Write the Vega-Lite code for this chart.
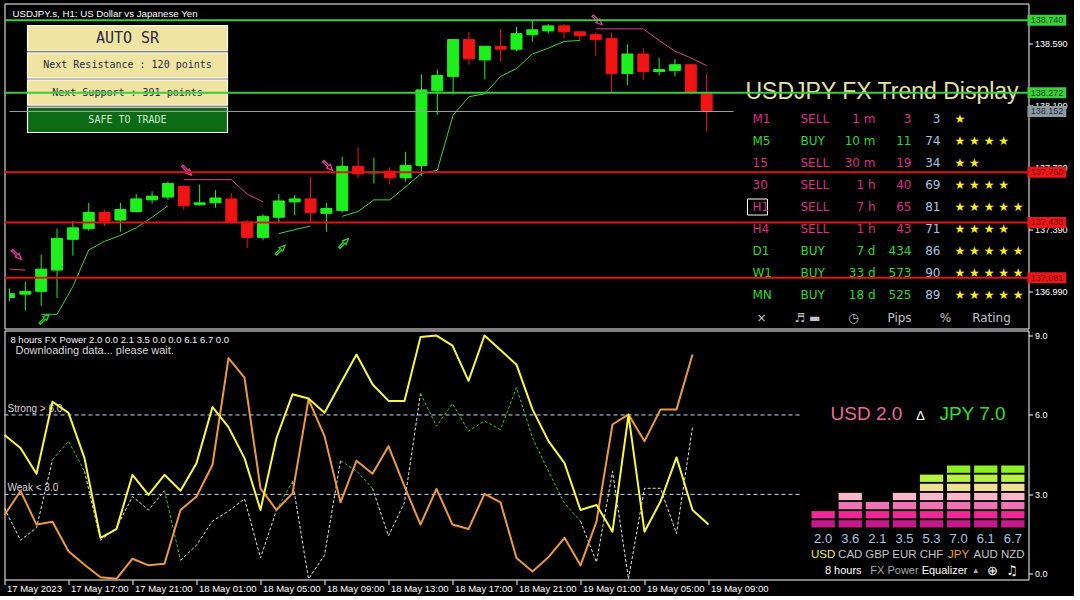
{
"$schema": "https://vega.github.io/schema/vega-lite/v6.json",
"background": "#000000",
"padding": {"left": 2.5, "top": 2.5, "right": 5, "bottom": 2},
"spacing": 2,
"bounds": "flush",
"config": {
  "view": {"stroke": "#ffffff", "strokeWidth": 1},
  "axis": {"grid": false, "domain": false, "labelColor": "#ffffff", "tickColor": "#ffffff", "labelFont": "Liberation Sans", "labelFontSize": 9, "tickSize": 4, "labelPadding": 2},
  "line": {"clip": true, "strokeJoin": "round"},
  "rule": {"clip": true},
  "text": {"font": "Liberation Sans"}
},
"datasets": {
  "candles": [
    {"i":0,"o":136.951,"h":137.013,"l":136.932,"c":136.982},
    {"i":1,"o":136.976,"h":137.056,"l":136.871,"c":136.994},
    {"i":2,"o":136.994,"h":137.230,"l":136.901,"c":137.137},
    {"i":3,"o":137.131,"h":137.397,"l":136.951,"c":137.335},
    {"i":4,"o":137.329,"h":137.446,"l":137.223,"c":137.403},
    {"i":5,"o":137.397,"h":137.564,"l":137.384,"c":137.502},
    {"i":6,"o":137.502,"h":137.521,"l":137.415,"c":137.446},
    {"i":7,"o":137.453,"h":137.564,"l":137.378,"c":137.521},
    {"i":8,"o":137.508,"h":137.620,"l":137.502,"c":137.589},
    {"i":9,"o":137.583,"h":137.638,"l":137.558,"c":137.607},
    {"i":10,"o":137.601,"h":137.700,"l":137.583,"c":137.688},
    {"i":11,"o":137.669,"h":137.676,"l":137.521,"c":137.545},
    {"i":12,"o":137.552,"h":137.682,"l":137.545,"c":137.564},
    {"i":13,"o":137.564,"h":137.645,"l":137.533,"c":137.595},
    {"i":14,"o":137.589,"h":137.626,"l":137.428,"c":137.440},
    {"i":15,"o":137.440,"h":137.453,"l":137.273,"c":137.341},
    {"i":16,"o":137.341,"h":137.490,"l":137.323,"c":137.477},
    {"i":17,"o":137.471,"h":137.620,"l":137.440,"c":137.576},
    {"i":18,"o":137.570,"h":137.614,"l":137.484,"c":137.589},
    {"i":19,"o":137.589,"h":137.731,"l":137.440,"c":137.502},
    {"i":20,"o":137.496,"h":137.564,"l":137.378,"c":137.527},
    {"i":21,"o":137.514,"h":137.861,"l":137.502,"c":137.799},
    {"i":22,"o":137.799,"h":137.923,"l":137.725,"c":137.750},
    {"i":23,"o":137.757,"h":137.855,"l":137.688,"c":137.762},
    {"i":24,"o":137.768,"h":137.793,"l":137.682,"c":137.725},
    {"i":25,"o":137.725,"h":137.892,"l":137.700,"c":137.805},
    {"i":26,"o":137.804,"h":138.391,"l":137.736,"c":138.291},
    {"i":27,"o":138.285,"h":138.422,"l":138.129,"c":138.384},
    {"i":28,"o":138.378,"h":138.615,"l":138.260,"c":138.615},
    {"i":29,"o":138.615,"h":138.665,"l":138.453,"c":138.491},
    {"i":30,"o":138.484,"h":138.572,"l":138.359,"c":138.572},
    {"i":31,"o":138.572,"h":138.684,"l":138.472,"c":138.553},
    {"i":32,"o":138.553,"h":138.696,"l":138.540,"c":138.653},
    {"i":33,"o":138.646,"h":138.740,"l":138.603,"c":138.678},
    {"i":34,"o":138.671,"h":138.715,"l":138.653,"c":138.703},
    {"i":35,"o":138.703,"h":138.715,"l":138.621,"c":138.665},
    {"i":36,"o":138.665,"h":138.665,"l":138.609,"c":138.640},
    {"i":37,"o":138.646,"h":138.659,"l":138.509,"c":138.615},
    {"i":38,"o":138.621,"h":138.659,"l":138.278,"c":138.397},
    {"i":39,"o":138.397,"h":138.584,"l":138.322,"c":138.522},
    {"i":40,"o":138.522,"h":138.559,"l":138.353,"c":138.409},
    {"i":41,"o":138.409,"h":138.497,"l":138.384,"c":138.422},
    {"i":42,"o":138.416,"h":138.490,"l":138.378,"c":138.453},
    {"i":43,"o":138.453,"h":138.459,"l":138.260,"c":138.278},
    {"i":44,"o":138.266,"h":138.397,"l":138.023,"c":138.152}
  ],
  "gl": [
    {"i":2,"p":136.846,"s":1},{"i":3,"p":136.846,"s":1},{"i":4,"p":137.025,"s":1},{"i":5,"p":137.261,"s":1},{"i":6,"p":137.316,"s":1},{"i":7,"p":137.354,"s":1},{"i":8,"p":137.403,"s":1},{"i":9,"p":137.471,"s":1},{"i":10,"p":137.545,"s":1},
    {"i":17,"p":137.366,"s":2},{"i":18,"p":137.391,"s":2},{"i":19,"p":137.415,"s":2},
    {"i":21,"p":137.477,"s":3},{"i":22,"p":137.508,"s":3},{"i":23,"p":137.583,"s":3},{"i":24,"p":137.583,"s":3},{"i":25,"p":137.667,"s":3},{"i":26,"p":137.754,"s":3},{"i":27,"p":137.773,"s":3},{"i":28,"p":138.129,"s":3},{"i":29,"p":138.247,"s":3},{"i":30,"p":138.266,"s":3},{"i":31,"p":138.378,"s":3},{"i":32,"p":138.428,"s":3},{"i":33,"p":138.522,"s":3},{"i":34,"p":138.559,"s":3},{"i":35,"p":138.603,"s":3},{"i":36,"p":138.609,"s":3}
  ],
  "pk": [
    {"i":0,"p":137.137,"s":1},{"i":1,"p":137.131,"s":1},
    {"i":11,"p":137.713,"s":2},{"i":12,"p":137.713,"s":2},{"i":13,"p":137.713,"s":2},{"i":14,"p":137.713,"s":2},{"i":15,"p":137.620,"s":2},{"i":16,"p":137.570,"s":2},
    {"i":37,"p":138.684,"s":3},{"i":38,"p":138.684,"s":3},{"i":39,"p":138.684,"s":3},{"i":40,"p":138.684,"s":3},{"i":41,"p":138.609,"s":3},{"i":42,"p":138.540,"s":3},{"i":43,"p":138.497,"s":3},{"i":44,"p":138.447,"s":3}
  ],
  "arrows": [
    {"i":0.45,"p":137.230,"k":"dn"},{"i":11.2,"p":137.772,"k":"dn"},{"i":20.1,"p":137.803,"k":"dn"},{"i":37.1,"p":138.740,"k":"dn"},
    {"i":2.2,"p":136.815,"k":"up"},{"i":17.1,"p":137.261,"k":"up"},{"i":21.1,"p":137.304,"k":"up"}
  ],
  "levels": [
    {"p":138.740,"t":"hi"},{"p":138.272,"t":"hi"},{"p":138.152,"t":"bid"},{"p":137.760,"t":"lo"},{"p":137.438,"t":"lo"},{"p":137.081,"t":"lo"}
  ],
  "srbox": [{"t":"AUTO SR"},{"t":"Next Resistance : 120 points"},{"t":"Next Support : 391 points"},{"t":"SAFE TO TRADE"}],
  "trend": [
    {"tf":"M1","d":"SELL","tm":"1 m","pips":3,"pct":3,"st":"★"},
    {"tf":"M5","d":"BUY","tm":"10 m","pips":11,"pct":74,"st":"★ ★ ★ ★"},
    {"tf":"15","d":"SELL","tm":"30 m","pips":19,"pct":34,"st":"★ ★"},
    {"tf":"30","d":"SELL","tm":"1 h","pips":40,"pct":69,"st":"★ ★ ★ ★"},
    {"tf":"H1","d":"SELL","tm":"7 h","pips":65,"pct":81,"st":"★ ★ ★ ★ ★"},
    {"tf":"H4","d":"SELL","tm":"1 h","pips":43,"pct":71,"st":"★ ★ ★ ★"},
    {"tf":"D1","d":"BUY","tm":"7 d","pips":434,"pct":86,"st":"★ ★ ★ ★ ★"},
    {"tf":"W1","d":"BUY","tm":"33 d","pips":573,"pct":90,"st":"★ ★ ★ ★ ★"},
    {"tf":"MN","d":"BUY","tm":"18 d","pips":525,"pct":89,"st":"★ ★ ★ ★ ★"}
  ],
  "foot": [
    {"c":"tf","t":"×"},{"c":"d","t":"♬  ▬"},{"c":"tm","t":"◷"},{"c":"pips","t":"Pips"},{"c":"pct","t":"%"},{"c":"st","t":"Rating"}
  ],
  "power": [
    {"i":0,"usd":5.24,"jpy":2.22},{"i":1,"usd":4.75,"jpy":3.13},{"i":2,"usd":3.78,"jpy":1.86},{"i":3,"usd":6.50,"jpy":1.97},
    {"i":4,"usd":6.08,"jpy":0.85},{"i":5,"usd":4.37,"jpy":0.34},{"i":6,"usd":1.36,"jpy":-0.13},{"i":7,"usd":1.69,"jpy":-0.19},
    {"i":8,"usd":3.74,"jpy":0.57},{"i":9,"usd":2.98,"jpy":0.32},{"i":10,"usd":3.74,"jpy":0.38},{"i":11,"usd":3.14,"jpy":2.41},
    {"i":12,"usd":4.18,"jpy":2.92},{"i":13,"usd":6.30,"jpy":4.12},{"i":14,"usd":5.54,"jpy":8.15},{"i":15,"usd":4.37,"jpy":7.41},
    {"i":16,"usd":2.41,"jpy":3.23},{"i":17,"usd":5.13,"jpy":2.41},{"i":18,"usd":6.78,"jpy":3.04},{"i":19,"usd":6.62,"jpy":6.59},
    {"i":20,"usd":6.08,"jpy":5.20},{"i":21,"usd":7.19,"jpy":2.70},{"i":22,"usd":8.28,"jpy":4.27},{"i":23,"usd":7.16,"jpy":3.78},
    {"i":24,"usd":6.53,"jpy":4.82},{"i":25,"usd":6.53,"jpy":3.30},{"i":26,"usd":8.94,"jpy":1.86},{"i":27,"usd":9.00,"jpy":3.21},
    {"i":28,"usd":8.62,"jpy":1.86},{"i":29,"usd":7.29,"jpy":1.69},{"i":30,"usd":9.00,"jpy":3.02},{"i":31,"usd":8.45,"jpy":2.70},
    {"i":32,"usd":7.90,"jpy":0.60},{"i":33,"usd":6.21,"jpy":0.09},{"i":34,"usd":5.01,"jpy":0.63},{"i":35,"usd":4.18,"jpy":1.36},
    {"i":36,"usd":2.41,"jpy":0.32},{"i":37,"usd":2.60,"jpy":1.97},{"i":38,"usd":1.59,"jpy":5.64},{"i":39,"usd":6.00,"jpy":6.02},
    {"i":40,"usd":1.59,"jpy":5.01},{"i":41,"usd":2.73,"jpy":6.21},{"i":42,"usd":4.40,"jpy":6.21},{"i":43,"usd":2.41,"jpy":8.28},
    {"i":44,"usd":1.86,"jpy":null}
  ],
  "dash": [
    {"i":0,"v":2.47,"s":1},{"i":1,"v":1.27,"s":1},{"i":2,"v":1.74,"s":1},{"i":3,"v":4.31,"s":1},
    {"i":3,"v":4.31,"s":2},{"i":4,"v":5.01,"s":2},{"i":5,"v":3.87,"s":2},
    {"i":5,"v":3.87,"s":3},{"i":6,"v":1.27,"s":3},{"i":7,"v":1.74,"s":3},{"i":8,"v":2.92,"s":3},{"i":9,"v":2.41,"s":3},{"i":10,"v":3.14,"s":3},
    {"i":10,"v":3.14,"s":4},{"i":11,"v":0.51,"s":4},
    {"i":11,"v":0.51,"s":5},{"i":12,"v":1.08,"s":5},{"i":13,"v":1.99,"s":5},{"i":14,"v":2.37,"s":5},{"i":15,"v":2.83,"s":5},{"i":16,"v":0.60,"s":5},{"i":17,"v":2.41,"s":5},
    {"i":17,"v":2.41,"s":6},{"i":18,"v":3.49,"s":6},
    {"i":18,"v":3.49,"s":7},{"i":19,"v":-0.19,"s":7},{"i":20,"v":0.70,"s":7},{"i":21,"v":4.27,"s":7},
    {"i":21,"v":4.27,"s":8},{"i":22,"v":3.89,"s":8},{"i":23,"v":3.23,"s":8},
    {"i":23,"v":3.23,"s":9},{"i":24,"v":1.43,"s":9},{"i":25,"v":2.70,"s":9},{"i":26,"v":6.81,"s":9},
    {"i":26,"v":6.81,"s":10},{"i":27,"v":5.58,"s":10},{"i":28,"v":6.43,"s":10},{"i":29,"v":5.39,"s":10},{"i":30,"v":5.77,"s":10},{"i":31,"v":5.45,"s":10},{"i":32,"v":7.03,"s":10},{"i":33,"v":5.13,"s":10},{"i":34,"v":3.87,"s":10},{"i":35,"v":2.66,"s":10},{"i":36,"v":1.99,"s":10},
    {"i":36,"v":1.99,"s":11},{"i":37,"v":0.44,"s":11},{"i":38,"v":3.87,"s":11},{"i":39,"v":-0.19,"s":11},{"i":40,"v":3.23,"s":11},{"i":41,"v":3.23,"s":11},{"i":42,"v":1.52,"s":11},{"i":43,"v":5.54,"s":11}
  ],
  "eq": [
    {"cur":"USD","lvl":1},{"cur":"USD","lvl":2},
    {"cur":"CAD","lvl":1},{"cur":"CAD","lvl":2},{"cur":"CAD","lvl":3},{"cur":"CAD","lvl":4},
    {"cur":"GBP","lvl":1},{"cur":"GBP","lvl":2},{"cur":"GBP","lvl":3},
    {"cur":"EUR","lvl":1},{"cur":"EUR","lvl":2},{"cur":"EUR","lvl":3},{"cur":"EUR","lvl":4},
    {"cur":"CHF","lvl":1},{"cur":"CHF","lvl":2},{"cur":"CHF","lvl":3},{"cur":"CHF","lvl":4},{"cur":"CHF","lvl":5},{"cur":"CHF","lvl":6},
    {"cur":"JPY","lvl":1},{"cur":"JPY","lvl":2},{"cur":"JPY","lvl":3},{"cur":"JPY","lvl":4},{"cur":"JPY","lvl":5},{"cur":"JPY","lvl":6},{"cur":"JPY","lvl":7},
    {"cur":"AUD","lvl":1},{"cur":"AUD","lvl":2},{"cur":"AUD","lvl":3},{"cur":"AUD","lvl":4},{"cur":"AUD","lvl":5},{"cur":"AUD","lvl":6},{"cur":"AUD","lvl":7},
    {"cur":"NZD","lvl":1},{"cur":"NZD","lvl":2},{"cur":"NZD","lvl":3},{"cur":"NZD","lvl":4},{"cur":"NZD","lvl":5},{"cur":"NZD","lvl":6},{"cur":"NZD","lvl":7}
  ],
  "eqv": [
    {"cur":"USD","pw":"2.0"},{"cur":"CAD","pw":"3.6"},{"cur":"GBP","pw":"2.1"},{"cur":"EUR","pw":"3.5"},
    {"cur":"CHF","pw":"5.3"},{"cur":"JPY","pw":"7.0"},{"cur":"AUD","pw":"6.1"},{"cur":"NZD","pw":"6.7"}
  ]
},
"vconcat": [
{
  "width": 1024, "height": 325,
  "layer": [
    {
      "data": {"name": "srbox"},
      "layer": [
        {"mark": {"type": "rect", "stroke": "#ffffff", "strokeWidth": 1.2},
         "encoding": {
           "x": {"datum": "b", "type": "nominal", "scale": {"type": "band", "domain": ["b"], "range": [23, 223], "paddingInner": 0, "paddingOuter": 0}, "axis": null},
           "y": {"field": "t", "type": "nominal", "sort": null, "scale": {"type": "band", "domain": ["AUTO SR", "Next Resistance : 120 points", "Next Support : 391 points", "SAFE TO TRADE"], "range": [22, 129], "paddingInner": 0.07, "paddingOuter": 0}, "axis": null},
           "fill": {"condition": {"test": "datum.t == 'SAFE TO TRADE'", "value": "#0d6b16"}, "value": "#f0e4a2"}
         }},
        {"mark": {"type": "text", "font": "DejaVu Sans Mono"},
         "encoding": {
           "x": {"datum": "b", "type": "nominal", "axis": null},
           "y": {"field": "t", "type": "nominal", "sort": null, "axis": null},
           "text": {"field": "t"},
           "size": {"condition": {"test": "datum.t == 'AUTO SR'", "value": 15}, "value": 10},
           "color": {"condition": {"test": "datum.t == 'SAFE TO TRADE'", "value": "#cdeecd"}, "value": "#2a2a44"}
         }}
      ]
    },
    {
      "layer": [
        {"data": {"values": [{"t": "USDJPY FX Trend Display"}]},
         "mark": {"type": "text", "align": "left", "baseline": "middle", "fontSize": 23, "color": "#e4e4aa", "dx": -16, "dy": -5},
         "encoding": {
           "x": {"datum": "tf", "type": "nominal", "scale": {"type": "point", "domain": ["tf", "d", "tm", "pips", "pct", "st"], "range": [757, 987], "padding": 0}, "axis": null},
           "y": {"datum": "T", "type": "nominal", "scale": {"type": "point", "domain": ["T", "M1", "M5", "15", "30", "H1", "H4", "D1", "W1", "MN", "ft"], "range": [93, 314], "padding": 0}, "axis": null},
           "text": {"field": "t"}
         }},
        {"data": {"values": [{"tf": "H1"}]},
         "mark": {"type": "point", "shape": "M-1.4,-0.8H0.6V0.8H-1.4Z", "size": 400, "filled": false, "color": "#ffffff", "strokeWidth": 1, "opacity": 1},
         "encoding": {"x": {"datum": "tf", "type": "nominal", "axis": null}, "y": {"field": "tf", "type": "nominal", "axis": null}}},
        {"data": {"name": "trend"},
         "mark": {"type": "text", "font": "DejaVu Sans", "fontSize": 12, "align": "left", "baseline": "middle", "dx": -9},
         "encoding": {"x": {"datum": "tf", "type": "nominal", "axis": null}, "y": {"field": "tf", "type": "nominal", "axis": null}, "text": {"field": "tf"},
           "color": {"condition": {"test": "datum.d == 'BUY'", "value": "#2ed82e"}, "value": "#dc2f82"}}},
        {"data": {"name": "trend"},
         "mark": {"type": "text", "font": "DejaVu Sans", "fontSize": 12, "align": "left", "baseline": "middle", "dx": -7},
         "encoding": {"x": {"datum": "d", "type": "nominal", "axis": null}, "y": {"field": "tf", "type": "nominal", "axis": null}, "text": {"field": "d"},
           "color": {"condition": {"test": "datum.d == 'BUY'", "value": "#2ed82e"}, "value": "#dc2f82"}}},
        {"data": {"name": "trend"},
         "mark": {"type": "text", "font": "DejaVu Sans", "fontSize": 12, "align": "right", "baseline": "middle", "dx": 22},
         "encoding": {"x": {"datum": "tm", "type": "nominal", "axis": null}, "y": {"field": "tf", "type": "nominal", "axis": null}, "text": {"field": "tm"},
           "color": {"condition": {"test": "datum.d == 'BUY'", "value": "#2ed82e"}, "value": "#dc2f82"}}},
        {"data": {"name": "trend"},
         "mark": {"type": "text", "font": "DejaVu Sans", "fontSize": 12, "align": "right", "baseline": "middle", "dx": 12},
         "encoding": {"x": {"datum": "pips", "type": "nominal", "axis": null}, "y": {"field": "tf", "type": "nominal", "axis": null}, "text": {"field": "pips"},
           "color": {"condition": {"test": "datum.d == 'BUY'", "value": "#2ed82e"}, "value": "#dc2f82"}}},
        {"data": {"name": "trend"},
         "mark": {"type": "text", "font": "DejaVu Sans", "fontSize": 12, "align": "right", "baseline": "middle", "dx": -5, "color": "#a8c4e0"},
         "encoding": {"x": {"datum": "pct", "type": "nominal", "axis": null}, "y": {"field": "tf", "type": "nominal", "axis": null}, "text": {"field": "pct"}}},
        {"data": {"name": "trend"},
         "mark": {"type": "text", "font": "DejaVu Sans", "fontSize": 12, "align": "left", "baseline": "middle", "dx": -37, "color": "#ffee22"},
         "encoding": {"x": {"datum": "st", "type": "nominal", "axis": null}, "y": {"field": "tf", "type": "nominal", "axis": null}, "text": {"field": "st"}}},
        {"data": {"name": "foot"},
         "mark": {"type": "text", "font": "DejaVu Sans", "fontSize": 12, "baseline": "middle", "color": "#c4c4c4"},
         "encoding": {"x": {"field": "c", "type": "nominal", "axis": null}, "y": {"datum": "ft", "type": "nominal", "axis": null}, "text": {"field": "t"}}}
      ]
    },
    {
      "layer": [
        {"data": {"name": "candles"}, "mark": {"type": "rule", "strokeWidth": 1},
         "encoding": {
           "x": {"field": "i", "type": "quantitative", "scale": {"domain": [0, 64], "nice": false, "zero": false}, "axis": null},
           "y": {"field": "l", "type": "quantitative", "scale": {"domain": [136.787, 138.815], "nice": false, "zero": false},
                 "axis": {"orient": "right", "values": [136.99, 137.19, 137.39, 137.59, 137.79, 137.99, 138.19, 138.39, 138.59, 138.79], "format": ".3f", "title": null}},
           "y2": {"field": "h"},
           "color": {"condition": {"test": "datum.c >= datum.o", "value": "#1ef01e"}, "value": "#f01414"}
         }},
        {"data": {"name": "candles"}, "transform": [{"filter": "datum.i > 0"}],
         "mark": {"type": "bar", "width": 11, "strokeWidth": 1},
         "encoding": {
           "x": {"field": "i", "type": "quantitative"},
           "y": {"field": "o", "type": "quantitative"},
           "y2": {"field": "c"},
           "fill": {"condition": {"test": "datum.c >= datum.o", "value": "#1ef01e"}, "value": "#f01414"},
           "stroke": {"condition": {"test": "datum.c >= datum.o", "value": "#1ef01e"}, "value": "#f01414"}
         }},
        {"data": {"name": "candles"}, "transform": [{"filter": "datum.i == 0"}],
         "mark": {"type": "bar", "color": "#1ef01e"},
         "encoding": {
           "x": {"datum": 0, "type": "quantitative"},
           "x2": {"datum": 0.34},
           "y": {"field": "o", "type": "quantitative"},
           "y2": {"field": "c"}
         }},
        {"data": {"name": "gl"}, "mark": {"type": "line", "color": "#3cd23c", "strokeWidth": 1},
         "encoding": {"x": {"field": "i", "type": "quantitative"}, "y": {"field": "p", "type": "quantitative"}, "detail": {"field": "s", "type": "nominal"}}},
        {"data": {"name": "pk"}, "mark": {"type": "line", "color": "#e0408c", "strokeWidth": 1},
         "encoding": {"x": {"field": "i", "type": "quantitative"}, "y": {"field": "p", "type": "quantitative"}, "detail": {"field": "s", "type": "nominal"}}},
        {"data": {"name": "arrows"}, "transform": [{"filter": "datum.k == 'dn'"}],
         "mark": {"type": "point", "shape": "arrow", "angle": 135, "size": 170, "filled": false, "color": "#e0409a", "strokeWidth": 1.3, "opacity": 1},
         "encoding": {"x": {"field": "i", "type": "quantitative"}, "y": {"field": "p", "type": "quantitative"}}},
        {"data": {"name": "arrows"}, "transform": [{"filter": "datum.k == 'up'"}],
         "mark": {"type": "point", "shape": "arrow", "angle": 45, "size": 170, "filled": false, "color": "#2ed22e", "strokeWidth": 1.3, "opacity": 1},
         "encoding": {"x": {"field": "i", "type": "quantitative"}, "y": {"field": "p", "type": "quantitative"}}},
        {"data": {"name": "levels"}, "transform": [{"filter": "datum.t == 'bid'"}],
         "mark": {"type": "rule", "color": "#a0a0a0", "strokeWidth": 1},
         "encoding": {"x": {"datum": 0, "type": "quantitative"}, "x2": {"datum": 45.7}, "y": {"field": "p", "type": "quantitative"}}},
        {"data": {"name": "levels"}, "transform": [{"filter": "datum.t != 'bid'"}],
         "mark": {"type": "rule", "strokeWidth": 2},
         "encoding": {"y": {"field": "p", "type": "quantitative"},
           "color": {"condition": {"test": "datum.t == 'hi'", "value": "#3ccc3c"}, "value": "#e01414"}}},
        {"data": {"name": "levels"},
         "mark": {"type": "bar", "height": 11},
         "encoding": {"x": {"datum": 64.25, "type": "quantitative"}, "x2": {"datum": 66.7}, "y": {"field": "p", "type": "quantitative"},
           "color": {"condition": [{"test": "datum.t == 'hi'", "value": "#3ccc3c"}, {"test": "datum.t == 'bid'", "value": "#8c9aa4"}], "value": "#e81818"}}},
        {"data": {"name": "levels"},
         "mark": {"type": "text", "align": "left", "baseline": "middle", "fontSize": 9},
         "encoding": {"x": {"datum": 64.45, "type": "quantitative"}, "y": {"field": "p", "type": "quantitative"},
           "text": {"field": "p", "type": "quantitative", "format": ".3f"},
           "color": {"condition": [{"test": "datum.t == 'hi'", "value": "#0c520c"}, {"test": "datum.t == 'bid'", "value": "#242c34"}], "value": "#7a0a0a"}}},
        {"data": {"values": [{"t": "USDJPY.s, H1:  US Dollar vs Japanese Yen"}]},
         "mark": {"type": "text", "align": "left", "baseline": "middle", "fontSize": 9.7, "color": "#ffffff"},
         "encoding": {"x": {"datum": 0.19, "type": "quantitative"}, "y": {"datum": 138.777, "type": "quantitative"}, "text": {"field": "t"}}}
      ]
    }
  ],
  "resolve": {"scale": {"x": "independent", "y": "independent"}}
},
{
  "width": 1024, "height": 249,
  "layer": [
    {
      "layer": [
        {"data": {"values": [{"v": 6}, {"v": 3}]},
         "mark": {"type": "rule", "strokeDash": [4, 3], "color": "#c8dcee", "strokeWidth": 1},
         "encoding": {"x": {"datum": 0, "type": "quantitative"}, "x2": {"datum": 49.7}, "y": {"field": "v", "type": "quantitative"}}},
        {"data": {"values": [{"t": "Strong > 6.0", "v": 6}, {"t": "Weak < 3.0", "v": 3}]},
         "mark": {"type": "text", "align": "left", "baseline": "bottom", "dy": -1, "fontSize": 10, "color": "#d8d8d8"},
         "encoding": {"x": {"datum": 0.19, "type": "quantitative"}, "y": {"field": "v", "type": "quantitative"}, "text": {"field": "t"}}},
        {"data": {"name": "dash"}, "transform": [{"filter": "datum.s % 2 == 1"}],
         "mark": {"type": "line", "strokeDash": [3, 2], "color": "#e6e6e6", "strokeWidth": 1},
         "encoding": {"x": {"field": "i", "type": "quantitative"}, "y": {"field": "v", "type": "quantitative"}, "detail": {"field": "s", "type": "nominal"}}},
        {"data": {"name": "dash"}, "transform": [{"filter": "datum.s % 2 == 0"}],
         "mark": {"type": "line", "strokeDash": [3, 2], "color": "#3cc03c", "strokeWidth": 1},
         "encoding": {"x": {"field": "i", "type": "quantitative"}, "y": {"field": "v", "type": "quantitative"}, "detail": {"field": "s", "type": "nominal"}}},
        {"data": {"name": "power"},
         "mark": {"type": "line", "color": "#ec9a40", "strokeWidth": 2},
         "encoding": {"x": {"field": "i", "type": "quantitative"}, "y": {"field": "jpy", "type": "quantitative"}}},
        {"data": {"name": "power"},
         "mark": {"type": "line", "color": "#f8f83c", "strokeWidth": 2},
         "encoding": {
           "x": {"field": "i", "type": "quantitative", "scale": {"domain": [0, 64], "nice": false, "zero": false},
                 "axis": {"values": [0, 4, 8, 12, 16, 20, 24, 28, 32, 36, 40, 44], "labelExpr": "datum.value == 0 ? '17 May 2023' : timeFormat(datetime(2023, 4, 17, 13 + datum.value), '%d %b %H:%M')",
                          "labelAlign": "left", "labelBaseline": "top", "labelFlush": false, "labelFontSize": 9.5, "tickSize": 5, "labelPadding": -1, "labelOffset": 2, "title": null}},
           "y": {"field": "usd", "type": "quantitative", "scale": {"domain": [-0.215, 9.19], "nice": false, "zero": false},
                 "axis": {"orient": "right", "values": [0, 3, 6, 9], "format": ".1f", "title": null}}
         }},
        {"data": {"values": [{"t": "8 hours FX Power 2.0 0.0 2.1 3.5 0.0 0.0 6.1 6.7 0.0"}]},
         "mark": {"type": "text", "align": "left", "baseline": "middle", "fontSize": 9.5, "color": "#f4f4f4"},
         "encoding": {"x": {"datum": 0.37, "type": "quantitative"}, "y": {"datum": 8.85, "type": "quantitative"}, "text": {"field": "t"}}},
        {"data": {"values": [{"t": "Downloading data... please wait."}]},
         "mark": {"type": "text", "align": "left", "baseline": "middle", "fontSize": 11, "color": "#d8d8d8"},
         "encoding": {"x": {"datum": 0.69, "type": "quantitative"}, "y": {"datum": 8.43, "type": "quantitative"}, "text": {"field": "t"}}},
        {"data": {"values": [{"t": "USD 2.0"}]},
         "mark": {"type": "text", "align": "center", "baseline": "middle", "fontSize": 19, "color": "#e86a9a"},
         "encoding": {"x": {"datum": 53.875, "type": "quantitative"}, "y": {"datum": 6.05, "type": "quantitative"}, "text": {"field": "t"}}},
        {"data": {"values": [{"t": "∆"}]},
         "mark": {"type": "text", "align": "center", "baseline": "middle", "fontSize": 13, "color": "#ffffff"},
         "encoding": {"x": {"datum": 57.25, "type": "quantitative"}, "y": {"datum": 5.95, "type": "quantitative"}, "text": {"field": "t"}}},
        {"data": {"values": [{"t": "JPY 7.0"}]},
         "mark": {"type": "text", "align": "center", "baseline": "middle", "fontSize": 19, "color": "#2ee02e"},
         "encoding": {"x": {"datum": 60.5, "type": "quantitative"}, "y": {"datum": 6.05, "type": "quantitative"}, "text": {"field": "t"}}}
      ]
    },
    {
      "data": {"name": "eq"},
      "mark": {"type": "rect"},
      "encoding": {
        "x": {"field": "cur", "type": "nominal", "scale": {"type": "band", "domain": ["USD", "CAD", "GBP", "EUR", "CHF", "JPY", "AUD", "NZD"], "range": [807, 1020], "paddingInner": 0.14, "paddingOuter": 0}, "axis": null},
        "y": {"field": "lvl", "type": "ordinal", "scale": {"type": "band", "domain": [7, 6, 5, 4, 3, 2, 1], "range": [135, 197], "paddingInner": 0.2, "paddingOuter": 0}, "axis": null},
        "color": {"field": "lvl", "type": "ordinal", "scale": {"domain": [1, 2, 3, 4, 5, 6, 7], "range": ["#c41c86", "#f02894", "#f074b4", "#f8b8cc", "#eee08e", "#b8f044", "#8cf024"]}, "legend": null}
      }
    },
    {
      "layer": [
        {"data": {"name": "eqv"},
         "mark": {"type": "text", "fontSize": 13, "color": "#a8c8e8", "baseline": "middle"},
         "encoding": {
           "x": {"field": "cur", "type": "nominal", "scale": {"type": "band", "domain": ["USD", "CAD", "GBP", "EUR", "CHF", "JPY", "AUD", "NZD"], "range": [807, 1020], "paddingInner": 0.14, "paddingOuter": 0}, "axis": null},
           "y": {"datum": "v", "type": "nominal", "scale": {"type": "point", "domain": ["v", "n", "f"], "range": [208, 240], "padding": 0}, "axis": null},
           "text": {"field": "pw"}
         }},
        {"data": {"name": "eqv"},
         "mark": {"type": "text", "fontSize": 11.5, "baseline": "middle"},
         "encoding": {
           "x": {"field": "cur", "type": "nominal", "axis": null},
           "y": {"datum": "n", "type": "nominal", "axis": null},
           "text": {"field": "cur"},
           "color": {"condition": [{"test": "datum.cur == 'USD'", "value": "#f2ee5a"}, {"test": "datum.cur == 'JPY'", "value": "#f0a030"}], "value": "#c4c4c4"}
         }},
        {"data": {"values": [{"t": "8 hours"}]}, "mark": {"type": "text", "fontSize": 11, "baseline": "middle", "color": "#ffffff", "dx": -7},
         "encoding": {"x": {"datum": "CAD", "type": "nominal", "axis": null}, "y": {"datum": "f", "type": "nominal", "axis": null}, "text": {"field": "t"}}},
        {"data": {"values": [{"t": "FX Power"}]}, "mark": {"type": "text", "fontSize": 11, "baseline": "middle", "color": "#a8a8a8", "dx": -10},
         "encoding": {"x": {"datum": "EUR", "type": "nominal", "axis": null}, "y": {"datum": "f", "type": "nominal", "axis": null}, "text": {"field": "t"}}},
        {"data": {"values": [{"t": "Equalizer"}]}, "mark": {"type": "text", "fontSize": 11, "baseline": "middle", "color": "#ffffff", "dx": 13},
         "encoding": {"x": {"datum": "CHF", "type": "nominal", "axis": null}, "y": {"datum": "f", "type": "nominal", "axis": null}, "text": {"field": "t"}}},
        {"data": {"values": [{"t": "▲"}]}, "mark": {"type": "text", "fontSize": 8, "baseline": "middle", "color": "#a8a8a8", "dx": 17},
         "encoding": {"x": {"datum": "JPY", "type": "nominal", "axis": null}, "y": {"datum": "f", "type": "nominal", "axis": null}, "text": {"field": "t"}}},
        {"data": {"values": [{"t": "⊕"}]}, "mark": {"type": "text", "fontSize": 13, "baseline": "middle", "color": "#ffffff", "dx": 7},
         "encoding": {"x": {"datum": "AUD", "type": "nominal", "axis": null}, "y": {"datum": "f", "type": "nominal", "axis": null}, "text": {"field": "t"}}},
        {"data": {"values": [{"t": "♫"}]}, "mark": {"type": "text", "fontSize": 13, "baseline": "middle", "color": "#ffffff", "dx": -1, "font": "DejaVu Sans"},
         "encoding": {"x": {"datum": "NZD", "type": "nominal", "axis": null}, "y": {"datum": "f", "type": "nominal", "axis": null}, "text": {"field": "t"}}}
      ]
    }
  ],
  "resolve": {"scale": {"x": "independent", "y": "independent", "color": "independent"}}
}
]
}
